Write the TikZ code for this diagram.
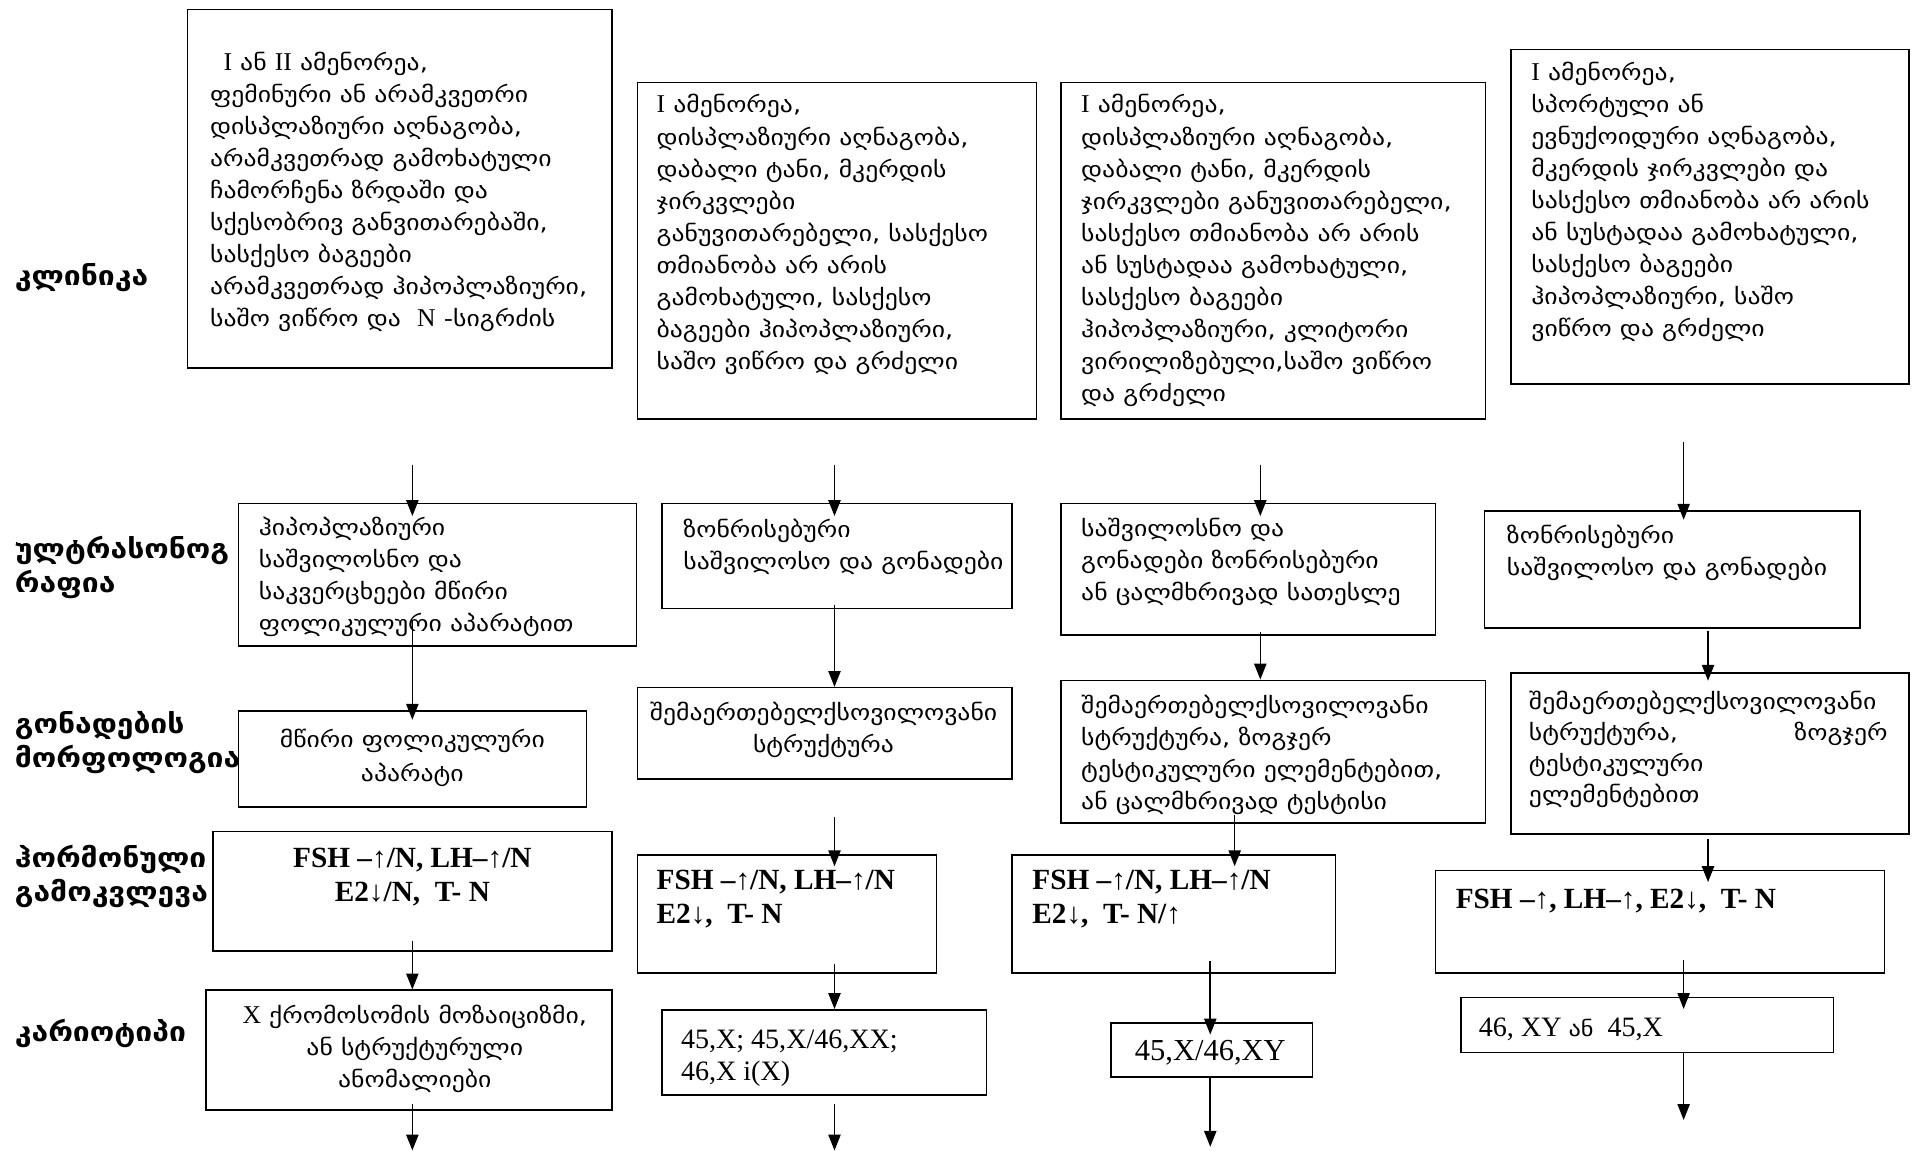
\documentclass[tikz,border=0pt]{standalone}
\usepackage{fontspec}
\setmainfont{Liberation Serif}
\newfontfamily\geofont[FakeStretch=1.17]{DejaVu Sans}
\newfontfamily\geolbl[FakeStretch=1.12]{DejaVu Sans}
\newfontfamily\latfont{Liberation Serif}
\newcommand\lat{\latfont\fontsize{21}{26.3}\selectfont}
\usetikzlibrary{arrows.meta}

\tikzset{
  box/.style={draw, line width=1.3pt, fill=white, inner sep=0pt, anchor=north west},
  gt/.style={font={\geofont\fontsize{18}{26.3}\selectfont}, align=left, anchor=north west, inner sep=0pt},
  gtc/.style={gt, align=center, anchor=north},
  hm/.style={font={\bfseries\fontsize{24}{28}\selectfont}, align=left, anchor=north west, inner sep=0pt},
  kt/.style={font={\fontsize{23}{26}\selectfont}, align=left, anchor=north west, inner sep=0pt},
  lbl/.style={font={\geolbl\bfseries\fontsize{22}{28}\selectfont}, align=left, anchor=north west, inner sep=0pt},
  arr/.style={line width=1.3pt, -{Triangle[length=13pt,width=10pt]}},
}
% box from (x1,y1) to (x2,y2), y measured downwards
\newcommand\mkbox[5]{\node[box, minimum width={#4-#2}, minimum height={#5-#3}] (#1) at (#2,#3) {};}

\begin{document}
\begin{tikzpicture}[x=1pt, y=-1pt]
\useasboundingbox[fill=white] (0,0) rectangle (1568,943);

% row labels
\node[lbl] (lk) at (12,214) {\strut კლინიკა};
\node[lbl] (lu) at (12,438) {\strut ულტრასონოგ\\რაფია};
\node[lbl] (lm) at (12,581) {\strut გონადების\\მორფოლოგია};
\node[lbl] (lh) at (12,691) {\strut ჰორმონული\\გამოკვლევა};
\node[lbl] (lx) at (12,834) {\strut კარიოტიპი};

% boxes
\mkbox{c1k}{153}{7}{501}{301}
\mkbox{c2k}{522}{67}{849}{343}
\mkbox{c3k}{869}{67}{1217}{343}
\mkbox{c4k}{1238}{40}{1564}{314}
\mkbox{c1u}{195}{412}{521}{529}
\mkbox{c2u}{542}{412}{829}{498}
\mkbox{c3u}{869}{412}{1176}{520}
\mkbox{c4u}{1216}{418}{1524}{514}
\mkbox{c1m}{195}{582}{480}{661}
\mkbox{c2m}{522}{563}{829}{638}
\mkbox{c3m}{869}{557}{1217}{674}
\mkbox{c4m}{1238}{551}{1564}{683}
\mkbox{c1h}{174}{681}{501}{779}
\mkbox{c2h}{522}{700}{767}{797}
\mkbox{c3h}{829}{700}{1094}{797}
\mkbox{c4h}{1176}{713}{1544}{797}
\mkbox{c1x}{168}{811}{501}{909}
\mkbox{c2x}{542}{827}{808}{897}
\mkbox{c3x}{910}{838}{1075}{882}
\mkbox{c4x}{1197}{817}{1502}{862}

% clinical picture
\node[gt] (t1k) at (172,39) {\strut\hspace*{11pt}{\lat I} ან {\lat II} ამენორეა,\\
ფემინური ან არამკვეთრი\\
დისპლაზიური აღნაგობა,\\
არამკვეთრად გამოხატული\\
ჩამორჩენა ზრდაში და\\
სქესობრივ განვითარებაში,\\
სასქესო ბაგეები\\
არამკვეთრად ჰიპოპლაზიური,\\
საშო ვიწრო და \ {\lat N} -სიგრძის};
\node[gt] (t2k) at (538,74) {\strut{\lat I} ამენორეა,\\
დისპლაზიური აღნაგობა,\\
დაბალი ტანი, მკერდის\\
ჯირკვლები\\
განუვითარებელი, სასქესო\\
თმიანობა არ არის\\
გამოხატული, სასქესო\\
ბაგეები ჰიპოპლაზიური,\\
საშო ვიწრო და გრძელი};
\node[gt] (t3k) at (886,74) {\strut{\lat I} ამენორეა,\\
დისპლაზიური აღნაგობა,\\
დაბალი ტანი, მკერდის\\
ჯირკვლები განუვითარებელი,\\
სასქესო თმიანობა არ არის\\
ან სუსტადაა გამოხატული,\\
სასქესო ბაგეები\\
ჰიპოპლაზიური, კლიტორი\\
ვირილიზებული,საშო ვიწრო\\
და გრძელი};
\node[gt] (t4k) at (1255,47) {\strut{\lat I} ამენორეა,\\
სპორტული ან\\
ევნუქოიდური აღნაგობა,\\
მკერდის ჯირკვლები და\\
სასქესო თმიანობა არ არის\\
ან სუსტადაა გამოხატული,\\
სასქესო ბაგეები\\
ჰიპოპლაზიური, საშო\\
ვიწრო და გრძელი};

% ultrasound
\node[gt] (t1u) at (212,420) {\strut ჰიპოპლაზიური\\საშვილოსნო და\\საკვერცხეები მწირი\\ფოლიკულური აპარატით};
\node[gt] (t2u) at (560,422) {\strut ზონრისებური\\საშვილოსო და გონადები};
\node[gt] (t3u) at (886,421) {\strut საშვილოსნო და\\გონადები ზონრისებური\\ან ცალმხრივად სათესლე};
\node[gt] (t4u) at (1235,427) {\strut ზონრისებური\\საშვილოსო და გონადები};

% gonad morphology
\node[gtc, font={\geofont\fontsize{18}{28}\selectfont}] (t1m) at (338,593) {\strut მწირი ფოლიკულური\\აპარატი};
\node[gtc] (t2m) at (675,572) {\strut შემაერთებელქსოვილოვანი\\სტრუქტურა};
\node[gt] (t3m) at (886,566) {\strut შემაერთებელქსოვილოვანი\\სტრუქტურა, ზოგჯერ\\ტესტიკულური ელემენტებით,\\ან ცალმხრივად ტესტისი};
\node[gt, font={\geofont\fontsize{18}{25.2}\selectfont}] (t4m) at (1253,564) {\strut შემაერთებელქსოვილოვანი\\\hbox to 294pt{სტრუქტურა,\hfill ზოგჯერ}\\ტესტიკულური\\ელემენტებით};

% hormonal tests
\node[hm, align=center, anchor=north] (t1h) at (338,691) {\strut FSH –↑/N, LH–↑/N\\E2↓/N, \ T- N};
\node[hm] (t2h) at (538,709) {\strut FSH –↑/N, LH–↑/N\\E2↓, \ T- N};
\node[hm] (t3h) at (846,709) {\strut FSH –↑/N, LH–↑/N\\E2↓, \ T- N/↑};
\node[hm] (t4h) at (1193,725) {\strut FSH –↑, LH–↑, E2↓, \ T- N};

% karyotype
\node[gtc] (t1x) at (340,820) {\strut{\lat X} ქრომოსომის მოზაიციზმი,\\ან სტრუქტურული\\ანომალიები};
\node[kt] (t2x) at (558,841) {\strut 45,X; 45,X/46,XX;\\46,X i(X)};
\node[kt, font={\fontsize{25}{28}\selectfont}, anchor=base] (t3x) at (992,869) {45,X/46,XY};
\node[kt] (t4x) at (1212,831) {\strut 46, XY {\geofont\fontsize{17}{26}\selectfont ან} \ 45,X};

% connectors
\coordinate (p11) at (338,381);
\coordinate (p12) at (338,508);
\coordinate (p13) at (338,771);
\coordinate (p14) at (338,905);
\coordinate (q14) at (338,943);
\draw[arr] (p11) -- (p11 |- c1u.north) -- ++(0,11);
\draw[arr] (p12) -- (p12 |- c1m.north) -- ++(0,8);
\draw[arr] (p13) -- (p13 |- c1x.north);
\draw[arr] (p14) -- (q14);

\coordinate (p21) at (684,381);
\coordinate (p22) at (684,496);
\coordinate (p23) at (684,670);
\coordinate (p24) at (684,790);
\coordinate (p25) at (684,905);
\coordinate (q25) at (684,943);
\draw[arr] (p21) -- (p21 |- c2u.north) -- ++(0,11);
\draw[arr] (p22) -- (p22 |- c2m.north);
\draw[arr] (p23) -- (p23 |- c2h.north) -- ++(0,10);
\draw[arr] (p24) -- (p24 |- c2x.north);
\draw[arr] (p25) -- (q25);

\coordinate (p31) at (1033,381);
\coordinate (p32) at (1033,518);
\coordinate (p33) at (1012,668);
\coordinate (p34) at (992,788);
\coordinate (p35) at (992,882);
\coordinate (q35) at (992,940);
\draw[arr] (p31) -- (p31 |- c3u.north) -- ++(0,11);
\draw[arr] (p32) -- (p32 |- c3m.north);
\draw[arr] (p33) -- (p33 |- c3h.north) -- ++(0,10);
\draw[arr] (p34) -- (p34 |- c3x.north) -- ++(0,10);
\draw[arr] (p35) -- (q35);

\coordinate (p41) at (1380,362);
\coordinate (p42) at (1400,517);
\coordinate (p43) at (1400,688);
\coordinate (p44) at (1380,787);
\coordinate (p45) at (1380,862);
\coordinate (q45) at (1380,918);
\draw[arr] (p41) -- (p41 |- c4u.north) -- ++(0,8);
\draw[arr] (p42) -- (p42 |- c4m.north) -- ++(0,7);
\draw[arr] (p43) -- (p43 |- c4h.north) -- ++(0,10);
\draw[arr] (p44) -- (p44 |- c4x.north) -- ++(0,10);
\draw[arr] (p45) -- (q45);
\end{tikzpicture}
\end{document}
